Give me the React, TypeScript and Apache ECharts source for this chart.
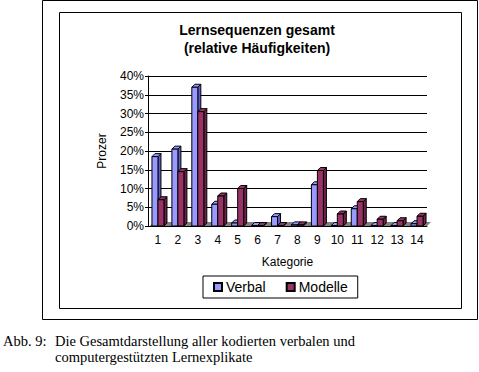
import React, { useEffect, useRef } from "react";
import * as echarts from "echarts";

const categories = ["1", "2", "3", "4", "5", "6", "7", "8", "9", "10", "11", "12", "13", "14"];
const verbal = [0.185, 0.205, 0.37, 0.058, 0.008, 0.0, 0.025, 0.003, 0.11, 0.0, 0.046, 0.0, 0.0, 0.006];
const modelle = [0.07, 0.145, 0.305, 0.08, 0.1, 0.0, 0.0, 0.003, 0.148, 0.032, 0.065, 0.018, 0.014, 0.026];
const seriesNames = ["Verbal", "Modelle"];
const yTicks = { min: 0, max: 0.4, interval: 0.05 };

const FONT = "'Liberation Sans', Arial, sans-serif";
const SERIF = "'Liberation Serif', 'Times New Roman', serif";

function make3DBar(offset: number, front: string, side: string) {
  return (params: any, api: any) => {
    const x = api.value(0);
    const v = api.value(1);
    const base = api.coord([x, 0]);
    const top = api.coord([x, v]);
    const w = 6;
    const d = 3;
    const left = base[0] + offset;
    const h = Math.max(base[1] - top[1], 0.5);
    const ty = base[1] - h;
    return {
      type: "group",
      children: [
        {
          type: "polygon",
          shape: { points: [[left + w, ty], [left + w + d, ty - d], [left + w + d, base[1] - d], [left + w, base[1]]] },
          style: { fill: side, stroke: "#000", lineWidth: 1 },
        },
        {
          type: "polygon",
          shape: { points: [[left, ty], [left + d, ty - d], [left + w + d, ty - d], [left + w, ty]] },
          style: { fill: front, stroke: "#000", lineWidth: 1 },
        },
        {
          type: "rect",
          shape: { x: left, y: ty, width: w, height: h },
          style: { fill: front, stroke: "#000", lineWidth: 1 },
        },
      ],
    };
  };
}

export default function App() {
  const ref = useRef<HTMLDivElement>(null);
  useEffect(() => {
    document.body.style.margin = "0";
    const chart = echarts.init(ref.current!, null, { renderer: "svg" });
    const gridLeft = 148;
    const gridTop = 76;
    const gridW = 279;
    const gridH = 150;
    chart.setOption({
      animation: false,
      backgroundColor: "#fff",
      grid: { left: gridLeft, top: gridTop, width: gridW, height: gridH },
      xAxis: {
        type: "category",
        data: categories,
        name: "Kategorie",
        nameLocation: "middle",
        nameGap: 30,
        nameTextStyle: { fontFamily: FONT, fontSize: 12, color: "#000" },
        axisLine: { show: true, lineStyle: { color: "#000" } },
        axisTick: { show: false },
        axisLabel: { fontFamily: FONT, fontSize: 12, color: "#000", margin: 8 },
      },
      yAxis: {
        type: "value",
        min: yTicks.min,
        max: yTicks.max,
        interval: yTicks.interval,
        name: "Prozer",
        nameLocation: "middle",
        nameGap: 40,
        nameTextStyle: { fontFamily: FONT, fontSize: 12, color: "#000" },
        axisLine: { show: true, lineStyle: { color: "#000" } },
        axisTick: { show: true, length: 3, lineStyle: { color: "#000" } },
        axisLabel: {
          fontFamily: FONT,
          fontSize: 12,
          color: "#000",
          margin: 4,
          formatter: (v: number) => Math.round(v * 100) + "%",
        },
        splitLine: { show: true, lineStyle: { color: "#000", width: 1 } },
      },
      legend: {
        data: seriesNames,
        left: 203,
        top: 276,
        orient: "horizontal",
        borderColor: "#000",
        borderWidth: 1,
        padding: [4, 10, 4, 10],
        itemWidth: 8,
        itemHeight: 8,
        itemGap: 20,
        icon: "rect",
        textStyle: { fontFamily: FONT, fontSize: 14, color: "#000", padding: [0, 0, 0, -1] },
      },
      graphic: [
        { type: "rect", shape: { x: 42.5, y: 0.5, width: 435, height: 319 }, style: { fill: "none", stroke: "#000", lineWidth: 1 } },
        { type: "rect", shape: { x: 59.5, y: 12.5, width: 402, height: 296 }, style: { fill: "none", stroke: "#000", lineWidth: 1 } },
        {
          type: "polygon",
          shape: { points: [[150, 226], [427, 226], [431, 222], [153, 222]] },
          style: { fill: "#808080" },
          z: 1,
        },
        {
          type: "text",
          x: 257,
          y: 21,
          style: {
            text: "Lernsequenzen gesamt\n(relative Häufigkeiten)",
            fontFamily: FONT,
            fontWeight: "bold",
            fontSize: 14,
            lineHeight: 18,
            textAlign: "center",
            fill: "#000",
          },
        },
        {
          type: "text",
          x: 3,
          y: 333,
          style: { text: "Abb. 9:", fontFamily: SERIF, fontSize: 14.5, fill: "#000" },
        },
        {
          type: "text",
          x: 55,
          y: 333,
          style: {
            text: "Die Gesamtdarstellung aller kodierten verbalen und\ncomputergestützten Lernexplikate",
            fontFamily: SERIF,
            fontSize: 14.5,
            lineHeight: 16,
            fill: "#000",
          },
        },
      ],
      series: [
        {
          name: seriesNames[0],
          type: "custom",
          itemStyle: { color: "#9999FF", borderColor: "#000", borderWidth: 1 },
          renderItem: make3DBar(-6, "#9999FF", "#5C5CCC"),
          data: verbal.map((v, i) => [i, v]),
          z: 3,
        },
        {
          name: seriesNames[1],
          type: "custom",
          itemStyle: { color: "#993366", borderColor: "#000", borderWidth: 1 },
          renderItem: make3DBar(0, "#993366", "#6E2249"),
          data: modelle.map((v, i) => [i, v]),
          z: 4,
        },
      ],
    });
    return () => chart.dispose();
  }, []);
  return <div ref={ref} style={{ width: 479, height: 372 }} />;
}
